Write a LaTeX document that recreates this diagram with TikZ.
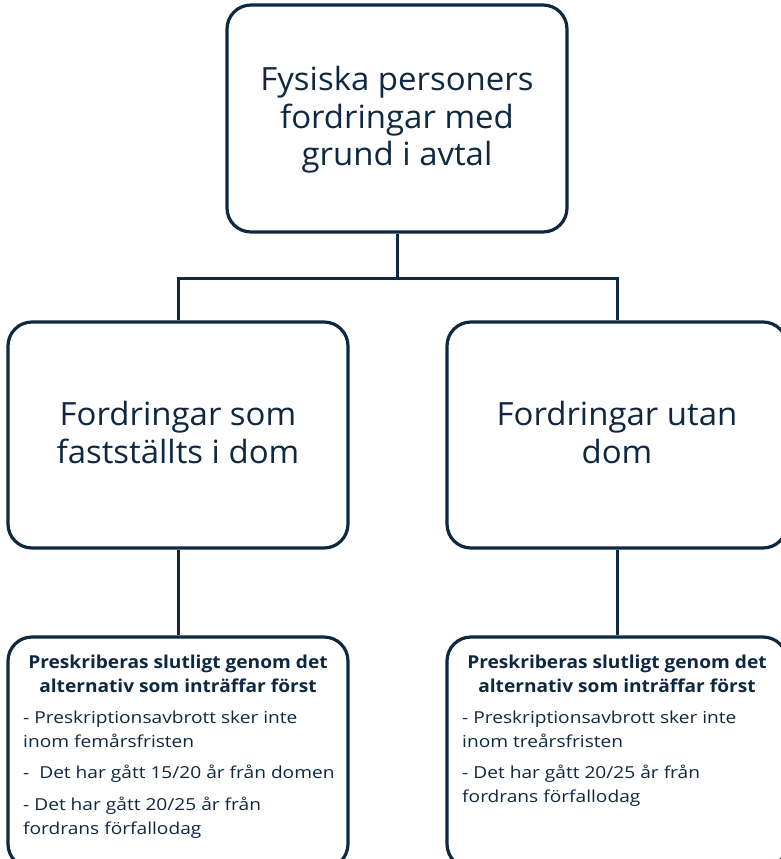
\documentclass[tikz,border=0pt]{standalone}
\usepackage{fontspec}
\setmainfont{Open Sans}
\newfontfamily\bigfont[FakeStretch=1.03]{Open Sans}
\newfontfamily\headfont[FakeStretch=1.075]{Open Sans}
\newfontfamily\bodyfont[FakeStretch=1.16]{Open Sans}
\definecolor{navy}{HTML}{0E2841}
\begin{document}
\begin{tikzpicture}[x=1pt,y=-1pt,
  box/.style={draw=navy,line width=3.2pt,rounded corners=24pt,fill=white,minimum width=340pt,inner sep=0pt},
  conn/.style={draw=navy,line width=3pt},
  big/.style={text=navy,anchor=base,inner sep=0pt,font=\bigfont\fontsize{32}{37}\selectfont},
  head/.style={text=navy,anchor=base,inner sep=0pt,font=\headfont\bfseries\fontsize{17.8}{24}\selectfont},
  body/.style={text=navy,anchor=base west,inner sep=0pt,font=\bodyfont\fontsize{16.5}{24}\selectfont}]
\useasboundingbox (0,0) rectangle (780,859);
\node[box,minimum height=227pt] (top) at (397,118.5) {};
\node[box,minimum height=226pt] (midL) at (178,435) {};
\node[box,minimum height=226pt] (midR) at (617,435) {};
\node[box,minimum height=231pt] (botL) at (178,752.5) {};
\node[box,minimum height=231pt] (botR) at (617,752.5) {};
\draw[conn] (top.south) -- ++(0,45) coordinate (j);
\draw[conn] (midL.north) |- (j) -| (midR.north);
\draw[conn] (midL.south) -- (botL.north);
\draw[conn] (midR.south) -- (botR.north);
% top text
\node[big] (t1) at (397,90) {Fysiska personers};
\node[big] (t2) at (397,128) {fordringar med};
\node[big] (t3) at (397,165) {grund i avtal};
% middle texts
\node[big] (l1) at (178,425) {Fordringar som};
\node[big] (l2) at (178,463) {fastställts i dom};
\node[big] (r1) at (617,425) {Fordringar utan};
\node[big] (r2) at (617,463) {dom};
% bottom left
\node[head] (lh1) at (178,668) {Preskriberas slutligt genom det};
\node[head] (lh2) at (178,692) {alternativ som inträffar först};
\node[body] (lb1) at (23,723) {- Preskriptionsavbrott sker inte};
\node[body] (lb2) at (23,747) {inom femårsfristen};
\node[body] (lb3) at (23,778) {-\ \ Det har gått 15/20 år från domen};
\node[body] (lb4) at (23,810) {- Det har gått 20/25 år från};
\node[body] (lb5) at (23,834) {fordrans förfallodag};
% bottom right
\node[head] (rh1) at (617,668) {Preskriberas slutligt genom det};
\node[head] (rh2) at (617,692) {alternativ som inträffar först};
\node[body] (rb1) at (462,723) {- Preskriptionsavbrott sker inte};
\node[body] (rb2) at (462,747) {inom treårsfristen};
\node[body] (rb3) at (462,778) {- Det har gått 20/25 år från};
\node[body] (rb4) at (462,802) {fordrans förfallodag};
\end{tikzpicture}
\end{document}
